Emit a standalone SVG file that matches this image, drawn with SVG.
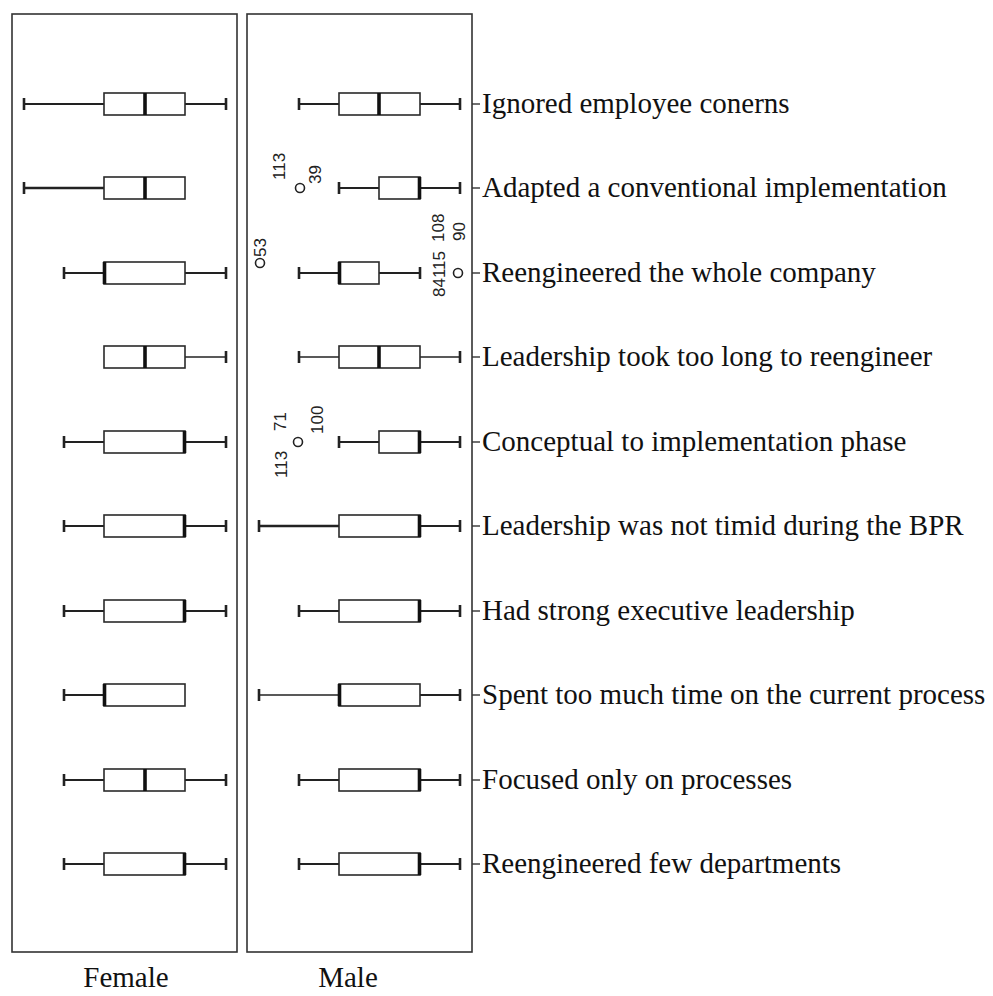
<svg xmlns="http://www.w3.org/2000/svg" width="993" height="996" viewBox="0 0 993 996">
  <style>
    .panel { fill: none; stroke: #333; stroke-width: 1.6; }
    .box { fill: #fff; stroke: #2a2a2a; stroke-width: 1.6; }
    .wh { stroke: #222; stroke-width: 2; fill: none; }
    .thin { stroke-width: 1.4; }
    .thick { stroke-width: 2.6; }
    .cap { stroke: #222; stroke-width: 2.6; }
    .med { stroke: #111; stroke-width: 3.6; }
    .tick { stroke: #333; stroke-width: 1.4; }
    .lbl { font-family: "Liberation Serif", "Times New Roman", serif; font-size: 29px; fill: #111; }
    .grp { font-family: "Liberation Serif", "Times New Roman", serif; font-size: 29px; fill: #111; text-anchor: middle; }
    .out { fill: none; stroke: #222; stroke-width: 1.6; }
    .oid { font-family: "Liberation Sans", Arial, sans-serif; font-size: 17px; fill: #222; }
  </style>
  <rect width="993" height="996" fill="#fff"/>

  <!-- panel frames -->
  <g id="panels">
    <rect class="panel" x="12" y="14" width="225" height="938"/>
    <rect class="panel" x="247" y="14" width="225" height="938"/>
  </g>

  <!-- Female panel: columns at 24, 64, 104, 145, 185, 226 -->
  <g id="female">
    <g id="f1">
      <line class="wh" x1="24" y1="104" x2="104" y2="104"/><line class="cap" x1="24" y1="98" x2="24" y2="110"/>
      <line class="wh" x1="185" y1="104" x2="226" y2="104"/><line class="cap" x1="226" y1="98" x2="226" y2="110"/>
      <rect class="box" x="104" y="93" width="81" height="22"/><line class="med" x1="145" y1="93" x2="145" y2="115"/>
    </g>
    <g id="f2">
      <line class="wh thick" x1="24" y1="188" x2="104" y2="188"/><line class="cap" x1="24" y1="182" x2="24" y2="194"/>
      <rect class="box" x="104" y="177" width="81" height="22"/><line class="med" x1="145" y1="177" x2="145" y2="199"/>
    </g>
    <g id="f3">
      <line class="wh" x1="64" y1="273" x2="104" y2="273"/><line class="cap" x1="64" y1="267" x2="64" y2="279"/>
      <line class="wh" x1="185" y1="273" x2="226" y2="273"/><line class="cap" x1="226" y1="267" x2="226" y2="279"/>
      <rect class="box" x="104" y="262" width="81" height="22"/><line class="med" x1="104.5" y1="262" x2="104.5" y2="284"/>
    </g>
    <g id="f4">
      <line class="wh thin" x1="185" y1="357" x2="226" y2="357"/><line class="cap" x1="226" y1="351" x2="226" y2="363"/>
      <rect class="box" x="104" y="346" width="81" height="22"/><line class="med" x1="145" y1="346" x2="145" y2="368"/>
    </g>
    <g id="f5">
      <line class="wh" x1="64" y1="442" x2="104" y2="442"/><line class="cap" x1="64" y1="436" x2="64" y2="448"/>
      <line class="wh" x1="185" y1="442" x2="226" y2="442"/><line class="cap" x1="226" y1="436" x2="226" y2="448"/>
      <rect class="box" x="104" y="431" width="81" height="22"/><line class="med" x1="184.5" y1="431" x2="184.5" y2="453"/>
    </g>
    <g id="f6">
      <line class="wh" x1="64" y1="526" x2="104" y2="526"/><line class="cap" x1="64" y1="520" x2="64" y2="532"/>
      <line class="wh" x1="185" y1="526" x2="226" y2="526"/><line class="cap" x1="226" y1="520" x2="226" y2="532"/>
      <rect class="box" x="104" y="515" width="81" height="22"/><line class="med" x1="184.5" y1="515" x2="184.5" y2="537"/>
    </g>
    <g id="f7">
      <line class="wh" x1="64" y1="611" x2="104" y2="611"/><line class="cap" x1="64" y1="605" x2="64" y2="617"/>
      <line class="wh" x1="185" y1="611" x2="226" y2="611"/><line class="cap" x1="226" y1="605" x2="226" y2="617"/>
      <rect class="box" x="104" y="600" width="81" height="22"/><line class="med" x1="184.5" y1="600" x2="184.5" y2="622"/>
    </g>
    <g id="f8">
      <line class="wh" x1="64" y1="695" x2="104" y2="695"/><line class="cap" x1="64" y1="689" x2="64" y2="701"/>
      <rect class="box" x="104" y="684" width="81" height="22"/><line class="med" x1="104.5" y1="684" x2="104.5" y2="706"/>
    </g>
    <g id="f9">
      <line class="wh" x1="64" y1="780" x2="104" y2="780"/><line class="cap" x1="64" y1="774" x2="64" y2="786"/>
      <line class="wh" x1="185" y1="780" x2="226" y2="780"/><line class="cap" x1="226" y1="774" x2="226" y2="786"/>
      <rect class="box" x="104" y="769" width="81" height="22"/><line class="med" x1="145" y1="769" x2="145" y2="791"/>
    </g>
    <g id="f10">
      <line class="wh" x1="64" y1="864" x2="104" y2="864"/><line class="cap" x1="64" y1="858" x2="64" y2="870"/>
      <line class="wh" x1="185" y1="864" x2="226" y2="864"/><line class="cap" x1="226" y1="858" x2="226" y2="870"/>
      <rect class="box" x="104" y="853" width="81" height="22"/><line class="med" x1="184.5" y1="853" x2="184.5" y2="875"/>
    </g>
  </g>

  <!-- Male panel: columns at 259, 299, 339, 379, 420, 460 -->
  <g id="male">
    <g id="m1">
      <line class="wh" x1="299" y1="104" x2="339" y2="104"/><line class="cap" x1="299" y1="98" x2="299" y2="110"/>
      <line class="wh" x1="420" y1="104" x2="460" y2="104"/><line class="cap" x1="460" y1="98" x2="460" y2="110"/>
      <rect class="box" x="339" y="93" width="81" height="22"/><line class="med" x1="379" y1="93" x2="379" y2="115"/>
    </g>
    <g id="m2">
      <line class="wh" x1="339" y1="188" x2="379" y2="188"/><line class="cap" x1="339" y1="182" x2="339" y2="194"/>
      <line class="wh" x1="420" y1="188" x2="460" y2="188"/><line class="cap" x1="460" y1="182" x2="460" y2="194"/>
      <rect class="box" x="379" y="177" width="41" height="22"/><line class="med" x1="419.5" y1="177" x2="419.5" y2="199"/>
      <circle class="out" cx="300" cy="188" r="4.5"/>
      <text class="oid" transform="translate(285 180) rotate(-90)">113</text>
      <text class="oid" transform="translate(321 184) rotate(-90)">39</text>
    </g>
    <g id="m3">
      <line class="wh" x1="299" y1="273" x2="339" y2="273"/><line class="cap" x1="299" y1="267" x2="299" y2="279"/>
      <line class="wh" x1="379" y1="273" x2="420" y2="273"/><line class="cap" x1="420" y1="267" x2="420" y2="279"/>
      <rect class="box" x="339" y="262" width="40" height="22"/><line class="med" x1="339.5" y1="262" x2="339.5" y2="284"/>
      <circle class="out" cx="260" cy="263" r="4.5"/>
      <text class="oid" transform="translate(266 257) rotate(-90)">53</text>
      <circle class="out" cx="458" cy="273" r="4.5"/>
      <text class="oid" transform="translate(445 297) rotate(-90)">84115</text>
      <text class="oid" transform="translate(444 242) rotate(-90)">108</text>
      <text class="oid" transform="translate(465 241) rotate(-90)">90</text>
    </g>
    <g id="m4">
      <line class="wh thin" x1="299" y1="357" x2="339" y2="357"/><line class="cap" x1="299" y1="351" x2="299" y2="363"/>
      <line class="wh thin" x1="420" y1="357" x2="460" y2="357"/><line class="cap" x1="460" y1="351" x2="460" y2="363"/>
      <rect class="box" x="339" y="346" width="81" height="22"/><line class="med" x1="379" y1="346" x2="379" y2="368"/>
    </g>
    <g id="m5">
      <line class="wh" x1="339" y1="442" x2="379" y2="442"/><line class="cap" x1="339" y1="436" x2="339" y2="448"/>
      <line class="wh" x1="420" y1="442" x2="460" y2="442"/><line class="cap" x1="460" y1="436" x2="460" y2="448"/>
      <rect class="box" x="379" y="431" width="41" height="22"/><line class="med" x1="419.5" y1="431" x2="419.5" y2="453"/>
      <circle class="out" cx="298" cy="442" r="4.5"/>
      <text class="oid" transform="translate(287 478) rotate(-90)">113</text>
      <text class="oid" transform="translate(286 431) rotate(-90)">71</text>
      <text class="oid" transform="translate(323 434) rotate(-90)">100</text>
    </g>
    <g id="m6">
      <line class="wh thick" x1="259" y1="526" x2="339" y2="526"/><line class="cap" x1="259" y1="520" x2="259" y2="532"/>
      <line class="wh" x1="420" y1="526" x2="460" y2="526"/><line class="cap" x1="460" y1="520" x2="460" y2="532"/>
      <rect class="box" x="339" y="515" width="81" height="22"/><line class="med" x1="419.5" y1="515" x2="419.5" y2="537"/>
    </g>
    <g id="m7">
      <line class="wh" x1="299" y1="611" x2="339" y2="611"/><line class="cap" x1="299" y1="605" x2="299" y2="617"/>
      <line class="wh" x1="420" y1="611" x2="460" y2="611"/><line class="cap" x1="460" y1="605" x2="460" y2="617"/>
      <rect class="box" x="339" y="600" width="81" height="22"/><line class="med" x1="419.5" y1="600" x2="419.5" y2="622"/>
    </g>
    <g id="m8">
      <line class="wh thin" x1="259" y1="695" x2="339" y2="695"/><line class="cap" x1="259" y1="689" x2="259" y2="701"/>
      <line class="wh" x1="420" y1="695" x2="460" y2="695"/><line class="cap" x1="460" y1="689" x2="460" y2="701"/>
      <rect class="box" x="339" y="684" width="81" height="22"/><line class="med" x1="339.5" y1="684" x2="339.5" y2="706"/>
    </g>
    <g id="m9">
      <line class="wh" x1="299" y1="780" x2="339" y2="780"/><line class="cap" x1="299" y1="774" x2="299" y2="786"/>
      <line class="wh" x1="420" y1="780" x2="460" y2="780"/><line class="cap" x1="460" y1="774" x2="460" y2="786"/>
      <rect class="box" x="339" y="769" width="81" height="22"/><line class="med" x1="419.5" y1="769" x2="419.5" y2="791"/>
    </g>
    <g id="m10">
      <line class="wh" x1="299" y1="864" x2="339" y2="864"/><line class="cap" x1="299" y1="858" x2="299" y2="870"/>
      <line class="wh" x1="420" y1="864" x2="460" y2="864"/><line class="cap" x1="460" y1="858" x2="460" y2="870"/>
      <rect class="box" x="339" y="853" width="81" height="22"/><line class="med" x1="419.5" y1="853" x2="419.5" y2="875"/>
    </g>
  </g>

  <!-- category axis ticks -->
  <g id="ticks">
    <line class="tick" x1="472" y1="104" x2="480" y2="104"/>
    <line class="tick" x1="472" y1="188" x2="480" y2="188"/>
    <line class="tick" x1="472" y1="273" x2="480" y2="273"/>
    <line class="tick" x1="472" y1="357" x2="480" y2="357"/>
    <line class="tick" x1="472" y1="442" x2="480" y2="442"/>
    <line class="tick" x1="472" y1="526" x2="480" y2="526"/>
    <line class="tick" x1="472" y1="611" x2="480" y2="611"/>
    <line class="tick" x1="472" y1="695" x2="480" y2="695"/>
    <line class="tick" x1="472" y1="780" x2="480" y2="780"/>
    <line class="tick" x1="472" y1="864" x2="480" y2="864"/>
  </g>

  <!-- category labels -->
  <g id="labels">
    <text class="lbl" x="482" y="113">Ignored employee conerns</text>
    <text class="lbl" x="482" y="197">Adapted a conventional implementation</text>
    <text class="lbl" x="482" y="282">Reengineered the whole company</text>
    <text class="lbl" x="482" y="366">Leadership took too long to reengineer</text>
    <text class="lbl" x="482" y="451">Conceptual to implementation phase</text>
    <text class="lbl" x="482" y="535">Leadership was not timid during the BPR</text>
    <text class="lbl" x="482" y="620">Had strong executive leadership</text>
    <text class="lbl" x="482" y="704">Spent too much time on the current process</text>
    <text class="lbl" x="482" y="789">Focused only on processes</text>
    <text class="lbl" x="482" y="873">Reengineered few departments</text>
  </g>

  <!-- group labels -->
  <g id="groups">
    <text class="grp" x="126" y="987">Female</text>
    <text class="grp" x="348" y="987">Male</text>
  </g>
</svg>
